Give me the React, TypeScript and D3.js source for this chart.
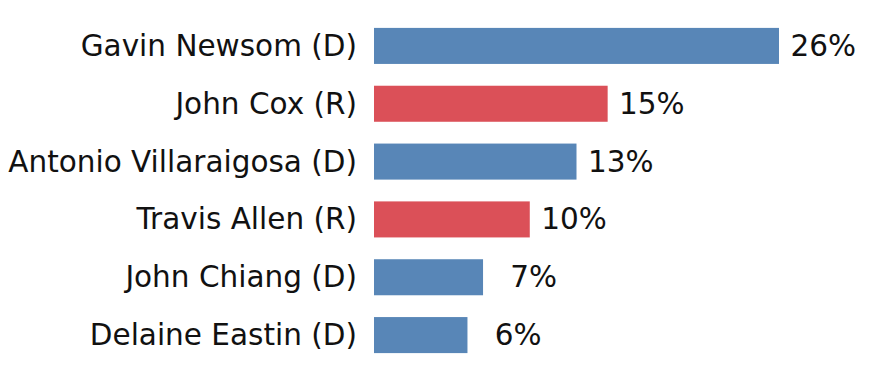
import React from "react";
import * as d3 from "d3";

const candidates = [
  "Gavin Newsom (D)",
  "John Cox (R)",
  "Antonio Villaraigosa (D)",
  "Travis Allen (R)",
  "John Chiang (D)",
  "Delaine Eastin (D)",
];
const values = [26, 15, 13, 10, 7, 6];
const parties = ["D", "R", "D", "R", "D", "D"];

const W = 883;
const H = 384;

export default function App() {
  const x = d3.scaleLinear().domain([0, 26]).range([374, 779]);
  const y = d3
    .scaleBand<string>()
    .domain(candidates)
    .range([17, 364])
    .paddingInner(0.377)
    .paddingOuter(0.1885);
  const color = (p: string) => (p === "R" ? "#db5058" : "#5886b7");
  const font = "'DejaVu Sans', sans-serif";
  return (
    <svg
      width={W}
      height={H}
      style={{ position: "absolute", left: 0, top: 0, background: "#fff" }}
    >
      {candidates.map((c, i) => {
        const yy = y(c)!;
        const cy = yy + y.bandwidth() / 2;
        return (
          <g key={c}>
            <rect
              x={x(0)}
              y={yy}
              width={x(values[i]) - x(0)}
              height={y.bandwidth()}
              fill={color(parties[i])}
            />
            <text
              x={357}
              y={cy + 10}
              textAnchor="end"
              fontFamily={font}
              fontSize={29.5}
              fill="#111"
            >
              {c}
            </text>
            <text
              x={x(values[i]) + (values[i] < 10 ? 74 : 77)}
              y={cy + 10}
              textAnchor="end"
              fontFamily={font}
              fontSize={29.5}
              fill="#111"
            >
              {values[i] + "%"}
            </text>
          </g>
        );
      })}
    </svg>
  );
}
